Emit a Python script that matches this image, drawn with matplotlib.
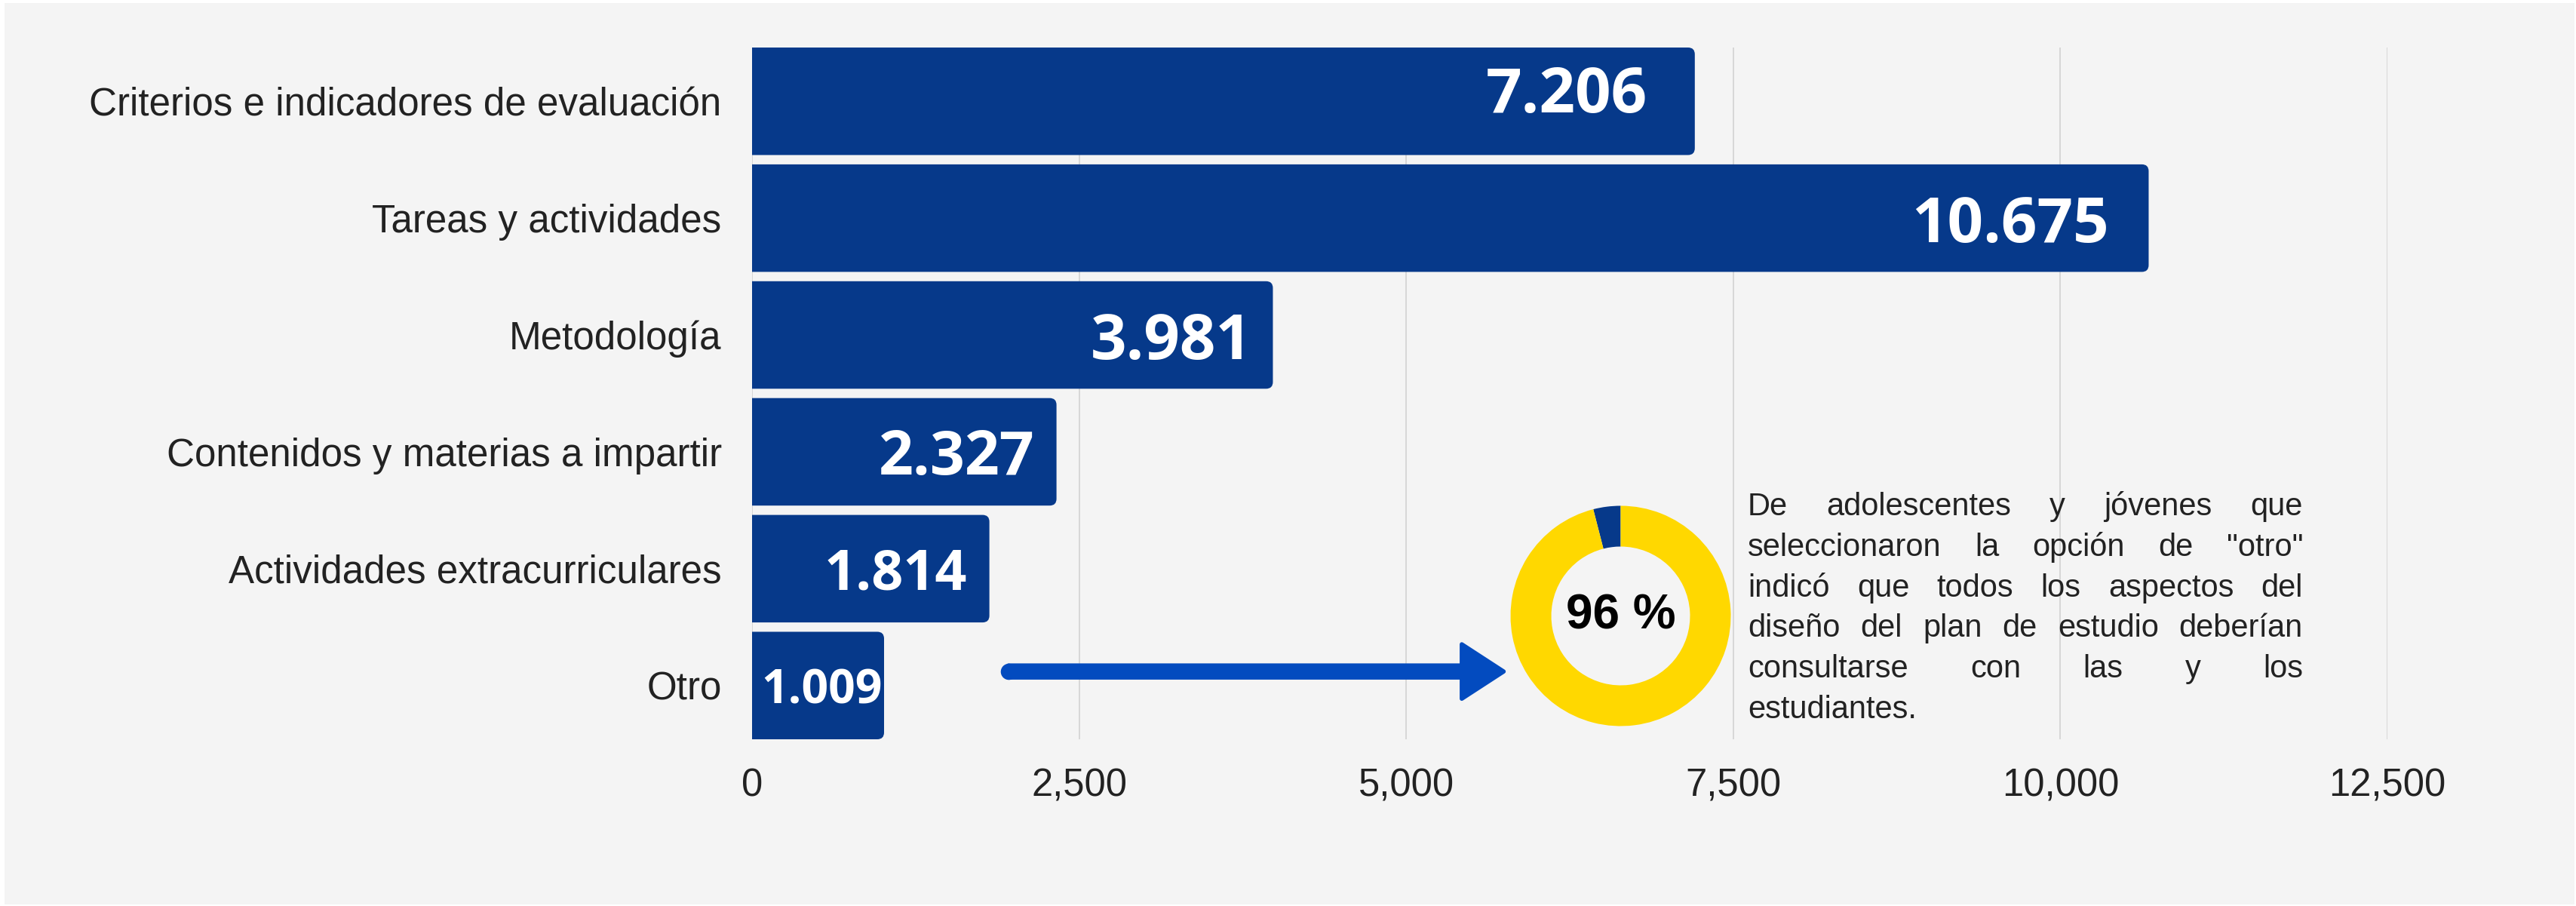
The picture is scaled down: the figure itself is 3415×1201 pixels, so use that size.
import numpy as np
import matplotlib.pyplot as plt
from matplotlib.patches import FancyBboxPatch, Rectangle
from matplotlib.ticker import FuncFormatter

# datos
categorias = ['Criterios e indicadores de evaluación', 'Tareas y actividades', 'Metodología',
              'Contenidos y materias a impartir', 'Actividades extracurriculares', 'Otro']
valores = [7206, 10675, 3981, 2327, 1814, 1009]
etiquetas = ['7.206', '10.675', '3.981', '2.327', '1.814', '1.009']
dona_valores = [4, 96]
dona_texto = '96 %'
parrafo = ['De adolescentes y jóvenes que',
           'seleccionaron la opción de "otro"',
           'indicó que todos los aspectos del',
           'diseño del plan de estudio deberían',
           'consultarse con las y los',
           'estudiantes.']
ticks = [0, 2500, 5000, 7500, 10000, 12500]

# estilo
AZUL = '#06398a'
FLECHA = '#034bbf'
AMARILLO = '#ffd800'
FONDO = '#f4f4f4'
TXT = '#222222'
tam_etiquetas = [60, 60, 60, 58, 53, 45]
desp_x = [-45, -38, -20, -21, -21, -2]
desp_y = [12, 0, 0, 0, 0, 0]

W, H = 3415, 1201
fig = plt.figure(figsize=(W / 100, H / 100), dpi=100, facecolor='white')
fig.patches.append(Rectangle((6 / W, 2 / H), (W - 8) / W, (H - 6) / H, transform=fig.transFigure,
                             facecolor=FONDO, edgecolor='none', zorder=-10))

ax = fig.add_axes([997 / W, (H - 980) / H, 2168 / W, 917 / H])
ax.set_facecolor('none')

h = 0.92
y = np.arange(len(categorias))
bars = ax.barh(y, valores, height=h, color=AZUL)
# barras con esquinas redondeadas (las de la izquierda quedan recortadas por el eje)
px_x = 12500 / 2168
px_y = (5 + h) / 917
for b in bars:
    b.set_visible(False)
    r = 9 * px_x
    p = FancyBboxPatch((-200, b.get_y()), b.get_width() + 200, b.get_height(),
                       boxstyle=f'round,pad=0,rounding_size={r}', mutation_aspect=px_y / px_x,
                       facecolor=AZUL, edgecolor='none', zorder=2)
    ax.add_patch(p)

for yi, v, lab, s, dx, dy in zip(y, valores, etiquetas, tam_etiquetas, desp_x, desp_y):
    ax.annotate(lab, xy=(v, yi), xytext=(dx, dy), textcoords='offset points',
                ha='right', va='center_baseline', color='white', fontsize=s,
                fontweight='bold', family='Open Sans', zorder=3)

ax.set_xlim(0, 12500)
ax.set_ylim(5 + h / 2, -h / 2)
ax.set_yticks(y)
ax.set_yticklabels(categorias, fontsize=36.8, family='Liberation Sans', color=TXT)
ax.set_xticks(ticks)
ax.xaxis.set_major_formatter(FuncFormatter(lambda v, p: f'{v:,.0f}'))
for t in ax.get_xticklabels():
    t.set_fontsize(36.5)
    t.set_family('Liberation Sans')
    t.set_color(TXT)
ax.tick_params(axis='y', length=0, pad=29)
ax.tick_params(axis='x', length=0, pad=27)
ax.grid(axis='x', color='#d4d4d4', lw=1.3, zorder=0)
ax.set_axisbelow(True)
for s in ax.spines.values():
    s.set_visible(False)

# flecha
y_fl = 4.88
ax.plot([1960], [y_fl], marker='o', ms=15.5, color=FLECHA, mec='none', zorder=4)
ax.annotate('', xy=(5745, y_fl), xytext=(1960, y_fl),
            arrowprops=dict(arrowstyle='simple,head_length=0.40,head_width=0.52,tail_width=0.115',
                            mutation_scale=100, facecolor=FLECHA, edgecolor=FLECHA, lw=4,
                            joinstyle='round', capstyle='round', shrinkA=0, shrinkB=0), zorder=4)

# dona
cx, cy, rad = 2148.5, 816.5, 146
axd = fig.add_axes([(cx - rad) / W, (H - cy - rad) / H, 2 * rad / W, 2 * rad / H])
axd.pie(dona_valores, colors=[AZUL, AMARILLO], startangle=90, counterclock=True,
        radius=1, wedgeprops=dict(width=0.37, edgecolor='none'))
axd.set_xlim(-1, 1)
axd.set_ylim(-1, 1)
axd.text(0, 0, dona_texto, ha='center', va='center', fontsize=46, fontweight='bold',
         family='Liberation Sans', color='black')

# parrafo justificado
fig.canvas.draw()
rend = fig.canvas.get_renderer()
x_izq, x_der = 2317, 3053
base0, paso = 683, 53.8
fs = 30
esp = fig.text(0, 0, 'a a', fontsize=fs, family='Liberation Sans')
esp2 = fig.text(0, 0, 'aa', fontsize=fs, family='Liberation Sans')
ancho_esp = esp.get_window_extent(rend).width - esp2.get_window_extent(rend).width
esp.remove()
esp2.remove()
for i, linea in enumerate(parrafo):
    palabras = linea.split()
    ts = [fig.text(0, 1 - (base0 + i * paso) / H, p, fontsize=fs, family='Liberation Sans',
                   color=TXT, ha='left', va='baseline') for p in palabras]
    anchos = [t.get_window_extent(rend).width for t in ts]
    if i < len(parrafo) - 1 and len(palabras) > 1:
        gap = (x_der - x_izq - sum(anchos)) / (len(palabras) - 1)
    else:
        gap = ancho_esp
    x = x_izq
    for t, a in zip(ts, anchos):
        t.set_x(x / W)
        x += a + gap

fig.savefig('out.png', dpi=100, facecolor=fig.get_facecolor())
